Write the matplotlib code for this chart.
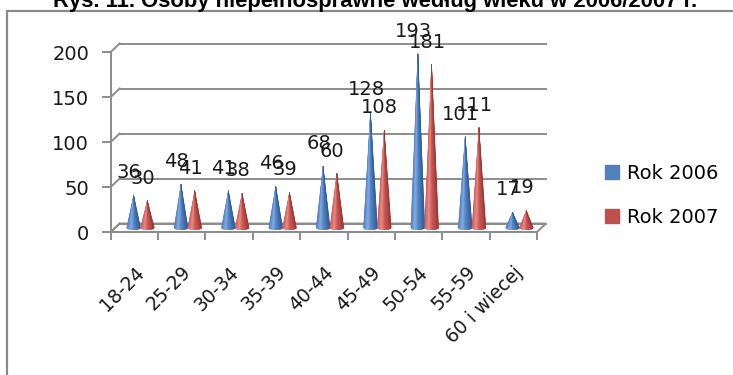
import numpy as np
import matplotlib
matplotlib.use("Agg")
import matplotlib.pyplot as plt
from matplotlib.colors import LinearSegmentedColormap
from matplotlib.collections import PolyCollection
from matplotlib.lines import Line2D
from matplotlib.patches import Polygon, Rectangle

categories = ["18-24", "25-29", "30-34", "35-39", "40-44",
              "45-49", "50-54", "55-59", "60 i wiecej"]
rok_2006 = [36, 48, 41, 46, 68, 128, 193, 101, 17]
rok_2007 = [30, 41, 38, 39, 60, 108, 181, 111, 19]
series_names = ["Rok 2006", "Rok 2007"]
y_ticks = [0, 50, 100, 150, 200]
title = "Rys. 11. Osoby niepełnosprawne według wieku w 2006/2007 r."

FONT = "DejaVu Sans"
GRID = "#8c8c8c"
BLUE = "#4f81bd"
RED = "#c0504d"

# cone shading, left rim -> highlight -> base colour -> shadowed right rim
blue_cmap = LinearSegmentedColormap.from_list(
    "cone_blue", [(0, "#4c7bbd"), (0.3, "#84abe0"), (0.55, "#5286ca"),
                  (0.85, "#3d6aab"), (1, "#315b94")])
red_cmap = LinearSegmentedColormap.from_list(
    "cone_red", [(0, "#c95855"), (0.3, "#e88c89"), (0.55, "#cf5653"),
                 (0.85, "#b04542"), (1, "#923533")])

plt.rcParams["font.family"] = [FONT]

fig = plt.figure(figsize=(7.33, 3.75), dpi=100)
ax = fig.add_axes([0.151, 0.3813, 0.5816, 0.48])
n_cat = len(categories)
ax.set_xlim(0, n_cat)
ax.set_ylim(0, y_ticks[-1])
ax.patch.set_visible(False)

# depth of the pseudo-3D box, converted from pixels to data units
px_x = ax.bbox.width / n_cat
px_y = ax.bbox.height / y_ticks[-1]
depth_x, depth_y = 9 / px_x, 8.5 / px_y
half_w = 7.0 / px_x
rim = 2.0 / px_y

for side in ["top", "right"]:
    ax.spines[side].set_visible(False)
for side in ["left", "bottom"]:
    ax.spines[side].set_color(GRID)
    ax.spines[side].set_linewidth(1.4)
    ax.spines[side].set_zorder(3)

# floor
floor = Polygon([(0, 0), (n_cat, 0), (n_cat + depth_x, depth_y), (depth_x, depth_y)],
                closed=True, facecolor="white", edgecolor=GRID, lw=1.4,
                clip_on=False, zorder=1)
ax.add_patch(floor)

# back wall gridlines and their links to the front axis
for v in y_ticks:
    ax.plot([depth_x, n_cat + depth_x], [v + depth_y] * 2, color=GRID, lw=1.4,
            clip_on=False, zorder=1)
    ax.plot([0, depth_x], [v, v + depth_y], color=GRID, lw=1.4,
            clip_on=False, zorder=1)


def draw_cone(xc, h, cmap):
    n = 30
    u = np.linspace(-1, 1, n + 1)
    bx = xc + half_w * u
    by = depth_y / 2 - rim * np.sqrt(1 - u ** 2)
    tip = (xc, h + depth_y / 2)
    polys = [[tip, (bx[k], by[k]), (bx[k + 1], by[k + 1])] for k in range(n)]
    cols = cmap((u[:-1] + u[1:] + 2) / 4)
    pc = PolyCollection(polys, facecolors=cols, edgecolors=cols, linewidths=0.3,
                        clip_on=False, zorder=2)
    ax.add_collection(pc)


x = np.arange(n_cat)
offsets = [0.39, 0.68]
for vals, off, cmap in zip([rok_2006, rok_2007], offsets, [blue_cmap, red_cmap]):
    for xi, v in zip(x + off, vals):
        draw_cone(xi + depth_x / 2, v, cmap)
        ax.annotate(str(v), xy=(xi, v), xytext=(0, 27), textcoords="offset pixels",
                    ha="center", va="center", fontsize=14, color="#1a1a1a",
                    annotation_clip=False, zorder=4)

ax.set_yticks(y_ticks)
ax.tick_params(axis="y", length=6.5, width=1.4, color=GRID, pad=9,
               labelsize=14, labelcolor="#1a1a1a")
ax.set_xticks(np.arange(n_cat + 1))
ax.set_xticklabels([])
ax.tick_params(axis="x", which="major", length=6, width=1.4, color=GRID)
ax.set_xticks(x + 0.5, minor=True)
ax.set_xticklabels(categories, minor=True, rotation=45, ha="right", va="top",
                   rotation_mode="anchor", fontsize=13.5, color="#1a1a1a")
ax.tick_params(axis="x", which="minor", length=0, pad=22)

handles = [Line2D([], [], marker="s", linestyle="", markersize=9.5, color=c)
           for c in [BLUE, RED]]
fig.legend(handles, series_names, loc="center left", bbox_to_anchor=(0.824, 0.479),
           frameon=False, fontsize=14, borderpad=0, borderaxespad=0,
           handlelength=0.8, handletextpad=0.4, labelspacing=1.25)

fig.text(375 / 733, 1 - 7 / 375, title, ha="center", va="baseline", fontsize=15.8,
         fontweight="bold", family="Liberation Sans")

# chart frame running off the right and bottom edges
fig.patches.append(Rectangle((6.5 / 733, -0.05), 1.0, 1 - 10.5 / 375 + 0.05,
                             transform=fig.transFigure, fill=False,
                             edgecolor="#8a8a8a", lw=1.6, clip_on=False))

fig.savefig("out.png", dpi=100)
